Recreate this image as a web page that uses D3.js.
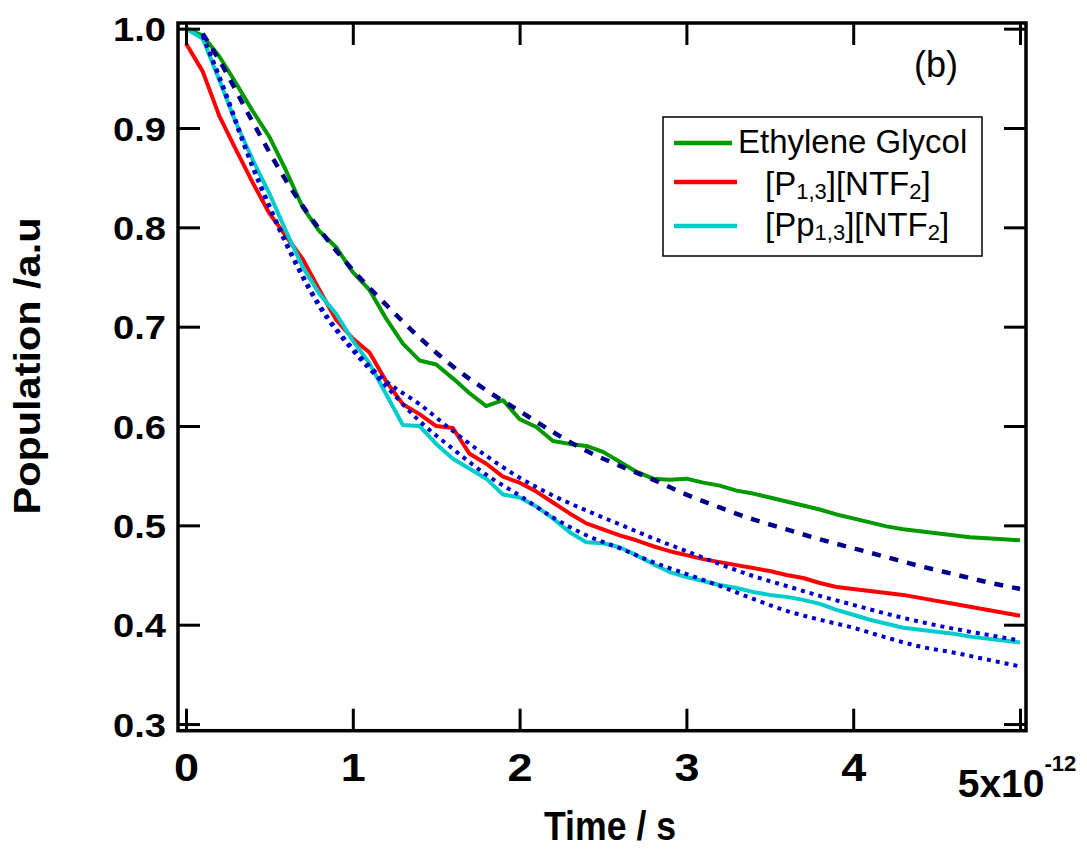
<!DOCTYPE html>
<html>
<head>
<meta charset="utf-8">
<script src="https://cdn.jsdelivr.net/npm/d3@7"></script>
<style>
  body { margin: 0; background: #fff; }
  svg { display: block; font-family: "Liberation Sans", Arial, sans-serif; }
</style>
</head>
<body>
<svg id="chart" width="1087" height="858"></svg>
<script>
// measured data (time in ps, population a.u.)
const times = [0,0.1,0.2,0.3,0.4,0.5,0.6,0.7,0.8,0.9,1.0,1.1,1.2,1.3,1.4,1.5,1.6,1.7,1.8,1.9,
  2.0,2.1,2.2,2.3,2.4,2.5,2.6,2.7,2.8,2.9,3.0,3.1,3.2,3.3,3.4,3.5,3.6,3.7,3.8,3.9,
  4.0,4.1,4.2,4.3,4.4,4.5,4.6,4.7,4.8,4.9,5.0]
const ethyleneGlycol = [1.0,0.993,0.972,0.945,0.917,0.891,0.857,0.820,0.796,0.780,
  0.755,0.737,0.708,0.683,0.666,0.662,0.648,0.633,0.620,0.626,
  0.607,0.599,0.585,0.582,0.580,0.574,0.564,0.554,0.547,0.546,
  0.547,0.543,0.540,0.535,0.532,0.528,0.524,0.520,0.516,0.511,
  0.507,0.503,0.499,0.496,0.494,0.492,0.490,0.488,0.487,0.486,0.485]
const p13 = [0.985,0.957,0.912,0.878,0.845,0.814,0.791,0.768,0.737,0.707,
  0.688,0.674,0.645,0.622,0.612,0.600,0.598,0.572,0.562,0.549,
  0.543,0.534,0.523,0.512,0.502,0.496,0.490,0.485,0.479,0.474,
  0.470,0.466,0.463,0.460,0.457,0.454,0.450,0.447,0.442,0.438,
  0.436,0.434,0.432,0.430,0.427,0.424,0.421,0.418,0.415,0.412,0.409]
const pp13 = [1.0,0.990,0.948,0.905,0.868,0.834,0.796,0.760,0.733,0.713,
  0.686,0.663,0.632,0.601,0.600,0.582,0.567,0.557,0.547,0.531,
  0.528,0.519,0.507,0.493,0.483,0.482,0.478,0.470,0.461,0.453,
  0.448,0.444,0.440,0.437,0.433,0.430,0.428,0.425,0.421,0.415,
  0.410,0.405,0.401,0.397,0.395,0.393,0.391,0.388,0.386,0.384,0.382]

// fitted curves
const fitTimes = [0.1,0.2,0.4,0.6,0.8,1.0,1.2,1.4,1.6,1.8,2.0,2.2,2.4,2.6,2.8,
  3.0,3.2,3.4,3.6,3.8,4.0,4.2,4.4,4.6,4.8,5.0]
const fitEG = [0.995,0.968,0.906,0.847,0.798,0.757,0.722,0.689,0.660,0.636,0.615,
  0.594,0.575,0.560,0.546,0.531,0.518,0.506,0.496,0.486,0.477,0.468,0.459,0.451,0.443,0.436]
const fitP13 = [0.993,0.952,0.862,0.785,0.722,0.678,0.645,0.622,0.595,0.570,0.548,
  0.530,0.515,0.501,0.487,0.474,0.461,0.449,0.439,0.429,0.420,0.411,0.403,0.396,0.390,0.384]
const fitPp13 = [0.993,0.950,0.860,0.783,0.720,0.676,0.640,0.605,0.577,0.551,0.530,
  0.508,0.490,0.477,0.463,0.451,0.439,0.426,0.414,0.405,0.397,0.387,0.378,0.372,0.365,0.358]

const xTicks = [0,1,2,3,4,5]
const yTicks = [0.3,0.4,0.5,0.6,0.7,0.8,0.9,1.0]

const pLeft = 178, pRight = 1026, pTop = 23, pBottom = 730.7

const x = d3.scaleLinear().domain([-0.048, 5.036]).range([pLeft, pRight])
const y = d3.scaleLinear().domain([0.2933, 1.0057]).range([pBottom, pTop])

const svg = d3.select("#chart")

const line = d3.line()
  .x(d => x(d[0]))
  .y(d => y(d[1]))

const lineFit = d3.line()
  .x(d => x(d[0]))
  .y(d => y(d[1]))
  .curve(d3.curveMonotoneX)

const plot = svg.append("g")

// data lines
const series = [
  {vals: ethyleneGlycol, color: "#009900"},
  {vals: p13, color: "#ff0000"},
  {vals: pp13, color: "#00cccc"}
]
series.forEach(s => {
  plot.append("path")
    .datum(times.map((t, i) => [t, s.vals[i]]))
    .attr("d", line)
    .attr("fill", "none")
    .attr("stroke", s.color)
    .attr("stroke-width", 4)
    .attr("stroke-linejoin", "round")
})

// fits on top
plot.append("path")
  .datum(fitTimes.map((t, i) => [t, fitEG[i]]))
  .attr("d", lineFit)
  .attr("fill", "none")
  .attr("stroke", "#00008b")
  .attr("stroke-width", 4.5)
  .attr("stroke-dasharray", "9,9")

;[fitP13, fitPp13].forEach(f => {
  plot.append("path")
    .datum(fitTimes.map((t, i) => [t, f[i]]))
    .attr("d", lineFit)
    .attr("fill", "none")
    .attr("stroke", "#0000cc")
    .attr("stroke-width", 4)
    .attr("stroke-dasharray", "4,5")
})

// axes (ticks pointing inward)
const gx = svg.append("g")
  .attr("transform", `translate(0,${pBottom})`)
  .call(d3.axisBottom(x).tickValues(xTicks).tickSize(-22).tickPadding(23)
    .tickFormat(d => d === 5 ? "" : d3.format("d")(d)))
const gxTop = svg.append("g")
  .attr("transform", `translate(0,${pTop})`)
  .call(d3.axisTop(x).tickValues(xTicks).tickSize(-22).tickFormat(""))
const gy = svg.append("g")
  .attr("transform", `translate(${pLeft},0)`)
  .call(d3.axisLeft(y).tickValues(yTicks).tickSize(-22).tickPadding(12)
    .tickFormat(d3.format(".1f")))
const gyRight = svg.append("g")
  .attr("transform", `translate(${pRight},0)`)
  .call(d3.axisRight(y).tickValues(yTicks).tickSize(-22).tickFormat(""))

;[gx, gxTop, gy, gyRight].forEach(g => {
  g.select(".domain").remove()
  g.selectAll(".tick line").attr("stroke", "#000").attr("stroke-width", 3)
})

gx.selectAll(".tick text")
  .attr("font-size", 39)
  .attr("font-weight", "bold")
  .attr("fill", "#000")
  .attr("textLength", 25)
  .attr("lengthAdjust", "spacingAndGlyphs")
  .filter(d => d === 5).remove()

gy.selectAll(".tick text")
  .attr("font-size", 34)
  .attr("font-weight", "bold")
  .attr("fill", "#000")
  .attr("dy", "0.36em")
  .attr("textLength", 53)
  .attr("lengthAdjust", "spacingAndGlyphs")

// last x label with exponent
const lastLab = svg.append("text")
  .attr("x", x(5) - 3)
  .attr("y", 797)
  .attr("text-anchor", "middle")
  .attr("font-size", 39)
  .attr("font-weight", "bold")
lastLab.append("tspan").text("5x10")
lastLab.append("tspan").attr("font-size", 22).attr("dy", -26).text("-12")

// frame
svg.append("rect")
  .attr("x", pLeft).attr("y", pTop)
  .attr("width", pRight - pLeft).attr("height", pBottom - pTop)
  .attr("fill", "none")
  .attr("stroke", "#000")
  .attr("stroke-width", 3.5)

// axis titles
svg.append("text")
  .attr("x", 610).attr("y", 840)
  .attr("text-anchor", "middle")
  .attr("font-size", 40)
  .attr("font-weight", "bold")
  .attr("textLength", 132)
  .attr("lengthAdjust", "spacingAndGlyphs")
  .text("Time / s")

svg.append("text")
  .attr("transform", "translate(40,366) rotate(-90)")
  .attr("text-anchor", "middle")
  .attr("font-size", 36)
  .attr("font-weight", "bold")
  .attr("textLength", 297)
  .attr("lengthAdjust", "spacingAndGlyphs")
  .text("Population /a.u")

// panel label
svg.append("text")
  .attr("x", 914).attr("y", 77)
  .attr("font-size", 36)
  .text("(b)")

// legend
const legend = svg.append("g")
legend.append("rect")
  .attr("x", 663).attr("y", 117)
  .attr("width", 319).attr("height", 139)
  .attr("fill", "#fff")
  .attr("stroke", "#000")
  .attr("stroke-width", 1.5)

const legendRows = [
  {color: "#009900", y: 143, x2: 732, tx: 738, base: 153, parts: [["Ethylene Glycol", 0]]},
  {color: "#ff0000", y: 182, x2: 737, tx: 765, base: 195, parts: [["[P", 0], ["1,3", 1], ["][NTF", 0], ["2", 1], ["]", 0]]},
  {color: "#00cccc", y: 226, x2: 737, tx: 765, base: 236, parts: [["[Pp", 0], ["1,3", 1], ["][NTF", 0], ["2", 1], ["]", 0]]}
]
legendRows.forEach(r => {
  legend.append("line")
    .attr("x1", 674).attr("x2", r.x2)
    .attr("y1", r.y).attr("y2", r.y)
    .attr("stroke", r.color)
    .attr("stroke-width", 4.5)
  const t = legend.append("text")
    .attr("x", r.tx).attr("y", r.base)
    .attr("font-size", 33)
  let shifted = 0
  r.parts.forEach(p => {
    const dy = p[1] ? 4 - shifted : -shifted
    shifted = p[1] ? 4 : 0
    t.append("tspan")
      .attr("dy", dy)
      .attr("font-size", p[1] ? 22 : 33)
      .text(p[0])
  })
})
</script>
</body>
</html>
